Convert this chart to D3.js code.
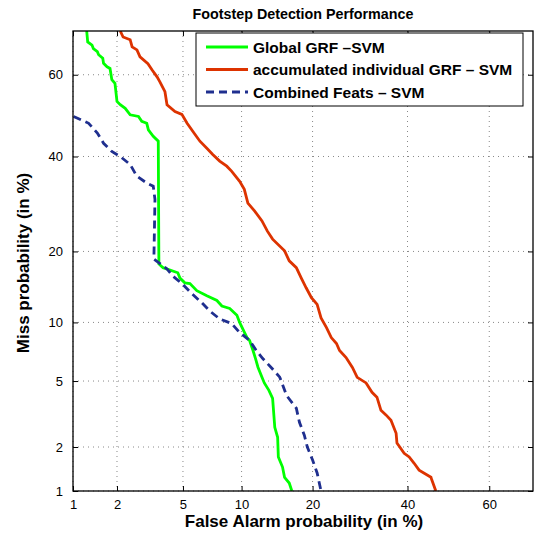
<!DOCTYPE html>
<html>
<head>
<meta charset="utf-8">
<script src="https://cdn.jsdelivr.net/npm/d3@7"></script>
<style>
  body { margin: 0; background: #fff; }
  svg { font-family: "Liberation Sans", Arial, sans-serif; }
  .grid line { stroke: #888; stroke-dasharray: 1,4; }
</style>
</head>
<body>
<div id="chart"></div>
<script>
// values in percent
var ticks = [1, 2, 5, 10, 20, 40, 60];

var globalFa   = [1.25, 1.27, 1.36, 1.39, 1.48, 1.51, 1.61, 1.63, 1.72, 1.80, 1.85, 1.94, 2.0, 2.1, 2.26, 2.43, 2.74, 2.87, 3.08, 3.15, 3.37, 3.61, 3.64, 3.85, 4.68, 4.81, 5.12, 5.46, 5.95, 6.72, 7.57, 8.02, 8.77, 9.5, 9.79, 10.1, 10.6, 10.9, 11.3, 11.6, 11.9, 12.4, 12.7, 13.3, 13.8, 14.1, 14.5, 14.6, 15.2, 15.5, 16.2, 16.6];
var globalMiss = [70, 67.6, 66.9, 66.1, 65.4, 64.7, 63.9, 62.7, 61.9, 61.5, 58.8, 57.9, 53.5, 52.7, 51.8, 50.2, 49.8, 48.6, 48.1, 46.5, 44.9, 43.7, 17.9, 17.3, 16.5, 15.7, 15.0, 14.9, 13.9, 13.2, 12.6, 11.9, 11.6, 10.8, 10.0, 9.36, 8.45, 8.17, 7.27, 6.61, 5.95, 5.25, 4.88, 4.43, 3.99, 2.67, 2.31, 1.72, 1.47, 1.25, 1.14, 1.0];

var accumFa   = [2.10, 2.19, 2.43, 2.50, 2.68, 2.80, 3.13, 3.31, 3.55, 3.69, 3.95, 4.06, 4.51, 4.93, 5.27, 5.81, 6.18, 6.72, 7.21, 7.82, 8.48, 8.97, 9.79, 10.3, 10.7, 11.5, 12.4, 13.1, 13.8, 15.5, 16.2, 17.3, 18.1, 18.9, 19.8, 20.8, 21.5, 22.5, 23.4, 24.4, 25.0, 26.3, 27.6, 28.6, 30.5, 31.8, 32.9, 33.8, 35.0, 36.1, 37.3, 37.5, 39.2, 40.4, 41.6, 42.8, 45.7, 45.9, 46.9];
var accumMiss = [70, 68.7, 68.1, 66.5, 65.8, 64.2, 62.6, 61.2, 59.5, 58.3, 55.9, 52.7, 51.0, 50.3, 48.1, 45.4, 43.7, 42.0, 40.5, 38.9, 37.7, 36.5, 34.2, 32.4, 29.4, 27.7, 25.7, 23.7, 22.2, 20.1, 18.4, 17.3, 15.7, 14.3, 12.95, 12.1, 10.5, 9.45, 8.45, 7.89, 7.27, 6.69, 5.93, 5.24, 4.88, 4.32, 4.05, 3.39, 3.17, 2.95, 2.45, 2.12, 1.82, 1.72, 1.56, 1.40, 1.25, 1.20, 1.0];

var combFa   = [1.01, 1.29, 1.48, 1.63, 1.85, 2.1, 2.43, 2.67, 3.08, 3.37, 3.45, 3.40, 4.06, 4.39, 4.93, 5.59, 6.33, 6.96, 7.8, 8.96, 9.79, 10.9, 11.7, 12.5, 13.7, 14.8, 15.8, 17.3, 17.8, 18.6, 19.1, 20.0, 20.8, 21.5];
var combMiss = [49.8, 48.1, 45.7, 43.2, 41.2, 40.0, 38.1, 35.4, 33.8, 33.1, 30.2, 18.7, 17.1, 16.0, 14.9, 13.5, 12.3, 11.3, 10.4, 9.87, 8.94, 8.17, 7.27, 6.61, 5.87, 5.25, 4.14, 3.49, 2.87, 2.38, 2.0, 1.64, 1.34, 1.0];

var seriesNames = ["Global GRF \u2013SVM", "accumulated individual GRF \u2013 SVM", "Combined Feats \u2013 SVM"];
var seriesColors = ["#00ff00", "#dd3300", "#1f2f8f"];

// inverse normal cdf (Acklam) for the DET axes
function probit(p) {
  var a = [-39.69683028665376, 220.9460984245205, -275.9285104469687, 138.3577518672690, -30.66479806614716, 2.506628277459239];
  var b = [-54.47609879822406, 161.5858368580409, -155.6989798598866, 66.80131188771972, -13.28068155288572];
  var c = [-0.007784894002430293, -0.3223964580411365, -2.400758277161838, -2.549732539343734, 4.374664141464968, 2.938163982698783];
  var d = [0.007784695709041462, 0.3224671290700398, 2.445134137142996, 3.754408661907416];
  var pl = 0.02425, q, r;
  if (p < pl) {
    q = Math.sqrt(-2 * Math.log(p));
    return (((((c[0]*q+c[1])*q+c[2])*q+c[3])*q+c[4])*q+c[5]) / ((((d[0]*q+d[1])*q+d[2])*q+d[3])*q+1);
  }
  if (p > 1 - pl) {
    q = Math.sqrt(-2 * Math.log(1 - p));
    return -(((((c[0]*q+c[1])*q+c[2])*q+c[3])*q+c[4])*q+c[5]) / ((((d[0]*q+d[1])*q+d[2])*q+d[3])*q+1);
  }
  q = p - 0.5; r = q * q;
  return (((((a[0]*r+a[1])*r+a[2])*r+a[3])*r+a[4])*r+a[5])*q / (((((b[0]*r+b[1])*r+b[2])*r+b[3])*r+b[4])*r+1);
}

var margin = {left: 73, right: 2, top: 31, bottom: 44};
var width = 535 - margin.left - margin.right;
var height = 535 - margin.top - margin.bottom;
var lo = 1, hi = 70;

var xs = d3.scaleLinear().domain([probit(lo / 100), probit(hi / 100)]).range([0, width]);
var ys = d3.scaleLinear().domain([probit(lo / 100), probit(hi / 100)]).range([height, 0]);
var x = function (v) { return xs(probit(v / 100)); };
var y = function (v) { return ys(probit(v / 100)); };
var tickPos = ticks.map(function (t) { return probit(t / 100); });

var svg = d3.select("#chart").append("svg")
  .attr("width", 535)
  .attr("height", 535);

var g = svg.append("g")
  .attr("transform", "translate(" + margin.left + "," + margin.top + ")");

g.append("clipPath").attr("id", "clip")
  .append("rect").attr("width", width).attr("height", height);

// dotted grid
var grid = g.append("g").attr("class", "grid");
grid.selectAll(".gx").data(ticks).enter().append("line")
  .attr("x1", function (d) { return x(d); }).attr("x2", function (d) { return x(d); })
  .attr("y1", 0).attr("y2", height);
grid.selectAll(".gy").data(ticks).enter().append("line")
  .attr("y1", function (d) { return y(d); }).attr("y2", function (d) { return y(d); })
  .attr("x1", 0).attr("x2", width);

// axes, ticks pointing in, mirrored on top/right
var xAxis = d3.axisBottom(xs).tickValues(tickPos)
  .tickSizeInner(-5).tickSizeOuter(0).tickPadding(9)
  .tickFormat(function (d, i) { return ticks[i]; });
var yAxis = d3.axisLeft(ys).tickValues(tickPos)
  .tickSizeInner(-5).tickSizeOuter(0).tickPadding(10)
  .tickFormat(function (d, i) { return ticks[i]; });

g.append("g").attr("transform", "translate(0," + height + ")").call(xAxis)
  .call(function (s) { s.select(".domain").remove(); });
g.append("g").call(yAxis)
  .call(function (s) { s.select(".domain").remove(); });
g.append("g").call(d3.axisTop(xs).tickValues(tickPos)
  .tickSizeInner(-5).tickSizeOuter(0).tickFormat(""))
  .call(function (s) { s.select(".domain").remove(); });
g.append("g").attr("transform", "translate(" + width + ",0)")
  .call(d3.axisRight(ys).tickValues(tickPos)
  .tickSizeInner(-5).tickSizeOuter(0).tickFormat(""))
  .call(function (s) { s.select(".domain").remove(); });

g.selectAll(".tick text").style("font-size", "13px").style("fill", "#000");

// curves
var line = d3.line()
  .x(function (d) { return x(d[0]); })
  .y(function (d) { return y(d[1]); });

var curves = g.append("g").attr("clip-path", "url(#clip)");
var allSeries = [d3.zip(globalFa, globalMiss), d3.zip(accumFa, accumMiss), d3.zip(combFa, combMiss)];
allSeries.forEach(function (s, i) {
  curves.append("path")
    .attr("d", line(s))
    .attr("fill", "none")
    .attr("stroke", seriesColors[i])
    .attr("stroke-width", 2.8)
    .attr("stroke-dasharray", i === 2 ? "8,5" : null);
});

// frame
g.append("rect").attr("width", width).attr("height", height)
  .attr("fill", "none").attr("stroke", "#000").attr("stroke-width", 1.3);

// legend
var lg = g.append("g").attr("transform", "translate(" + (196 - margin.left) + "," + (33 - margin.top) + ")");
lg.append("rect").attr("width", 327).attr("height", 73)
  .attr("fill", "#fff").attr("stroke", "#000").attr("stroke-width", 1);
seriesNames.forEach(function (n, i) {
  var yy = 14 + i * 22.5;
  lg.append("line").attr("x1", 10).attr("x2", 52).attr("y1", yy).attr("y2", yy)
    .attr("stroke", seriesColors[i]).attr("stroke-width", 2.8)
    .attr("stroke-dasharray", i === 2 ? "8,5" : null);
  lg.append("text").attr("x", 57).attr("y", yy + 5.5)
    .style("font-size", "15.5px").style("font-weight", "bold")
    .text(n);
});

// titles
svg.append("text")
  .attr("x", margin.left + width / 2).attr("y", 19)
  .attr("text-anchor", "middle")
  .style("font-size", "14.3px").style("font-weight", "bold")
  .text("Footstep Detection Performance");
svg.append("text")
  .attr("x", 304).attr("y", 527)
  .attr("text-anchor", "middle")
  .style("font-size", "17px").style("font-weight", "bold")
  .text("False Alarm probability (in %)");
svg.append("text")
  .attr("transform", "translate(29,263) rotate(-90)")
  .attr("text-anchor", "middle")
  .style("font-size", "17px").style("font-weight", "bold")
  .text("Miss probability (in %)");
</script>
</body>
</html>
